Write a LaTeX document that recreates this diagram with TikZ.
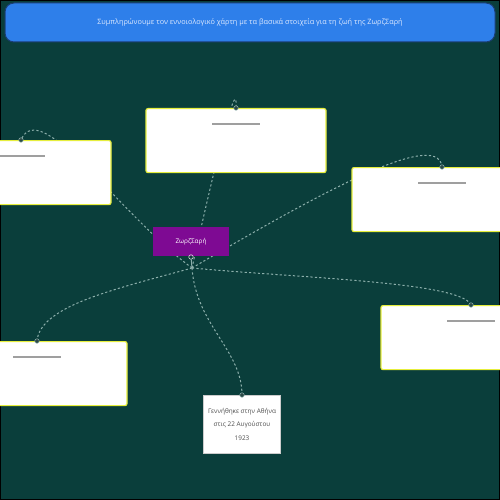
\documentclass[tikz,border=0pt]{standalone}
\usepackage{fontspec}
\setmainfont{Open Sans}
\usepackage{xcolor}
\usetikzlibrary{calc}
\definecolor{board}{HTML}{0A3E3B}
\definecolor{banner}{HTML}{2E7FEA}
\definecolor{bannerline}{HTML}{1B3E74}
\definecolor{bannertext}{HTML}{DDE9FF}
\definecolor{rim}{HTML}{E6EE3C}
\definecolor{plum}{HTML}{7E0A93}
\definecolor{wire}{HTML}{8CAFAB}
\definecolor{pinfill}{HTML}{2C4A48}
\tikzstyle{title} = [rectangle, rounded corners=9pt, minimum width=490pt, minimum height=39pt, text centered, draw=bannerline, line width=1pt, fill=banner, text=bannertext, font=\fontsize{7.3}{8}\selectfont]
\tikzstyle{card} = [rectangle, rounded corners=2pt, minimum width=180pt, minimum height=64pt, anchor=north, draw=rim, line width=1.2pt, fill=white]
\tikzstyle{core} = [rectangle, minimum width=76pt, minimum height=29pt, text centered, fill=plum, text=white, font=\fontsize{6.4}{7}\selectfont]
\tikzstyle{note} = [rectangle, minimum width=77pt, minimum height=58pt, align=center, draw=gray!40, fill=white, text=black!70, font=\fontsize{6.4}{13.5}\selectfont]
\tikzstyle{bar} = [line width=1.8pt, color=gray!75]
\tikzstyle{dot} = [circle, inner sep=0pt, minimum size=4.5pt, fill=pinfill, draw=wire, line width=0.5pt]
\tikzstyle{link} = [line width=1pt, color=wire, dash pattern=on 2.2pt off 2.2pt]

\begin{document}
\begin{tikzpicture}[x=1pt, y=-1pt]
\useasboundingbox (0,0) rectangle (500,500);
\clip (0,0) rectangle (500,500);
\fill [board, draw=black, line width=2pt] (0,0) rectangle (500,500);
\node (head) [title] at (250,22.5) {Συμπληρώνουμε τον εννοιολογικό χάρτη με τα βασικά στοιχεία για τη ζωή της ΖωρζΣαρή};

\coordinate (hub) at (192,268);
\coordinate (p1) at (21,140);
\coordinate (p2) at (236,108);
\coordinate (p3) at (442,167);
\coordinate (p4) at (471,305);
\coordinate (p5) at (37,341);
\coordinate (p6) at (242,395);

\draw [link] (hub) .. controls (120,215) and (40,95) .. (p1);
\draw [link] (hub) .. controls (216,160) and (238,70) .. (p2);
\draw [link] (hub) .. controls (300,205) and (438,125) .. (p3);
\draw [link] (hub) .. controls (300,278) and (462,282) .. (p4);
\draw [link] (hub) .. controls (120,288) and (40,305) .. (p5);
\draw [link] (hub) .. controls (196,325) and (242,350) .. (p6);

\node (card1) [card] at (p1) {};
\node (card2) [card] at (p2) {};
\node (card3) [card] at (p3) {};
\node (card4) [card] at (p4) {};
\node (card5) [card] at (p5) {};
\draw [bar] ([yshift=-16pt]card1.north) ++(-24,0) -- ++(48,0);
\draw [bar] ([yshift=-16pt]card2.north) ++(-24,0) -- ++(48,0);
\draw [bar] ([yshift=-16pt]card3.north) ++(-24,0) -- ++(48,0);
\draw [bar] ([yshift=-16pt]card4.north) ++(-24,0) -- ++(48,0);
\draw [bar] ([yshift=-16pt]card5.north) ++(-24,0) -- ++(48,0);

\node (born) [note, anchor=north] at (p6) {Γεννήθηκε στην Αθήνα\\στις 22 Αυγούστου\\1923};
\node (name) [core] at (191,241.5) {ΖωρζΣαρή};
\node (pin) [circle, inner sep=0pt, minimum size=4.5pt, draw=gray!30, line width=0.6pt] at (191,257) {};
\draw [wire, line width=1pt] (pin) -- (hub);

\node (dot1) [dot] at (p1) {};
\node (dot2) [dot] at (p2) {};
\node (dot3) [dot] at (p3) {};
\node (dot4) [dot] at (p4) {};
\node (dot5) [dot] at (p5) {};
\node (dot6) [dot] at (p6) {};

\end{tikzpicture}
\end{document}
